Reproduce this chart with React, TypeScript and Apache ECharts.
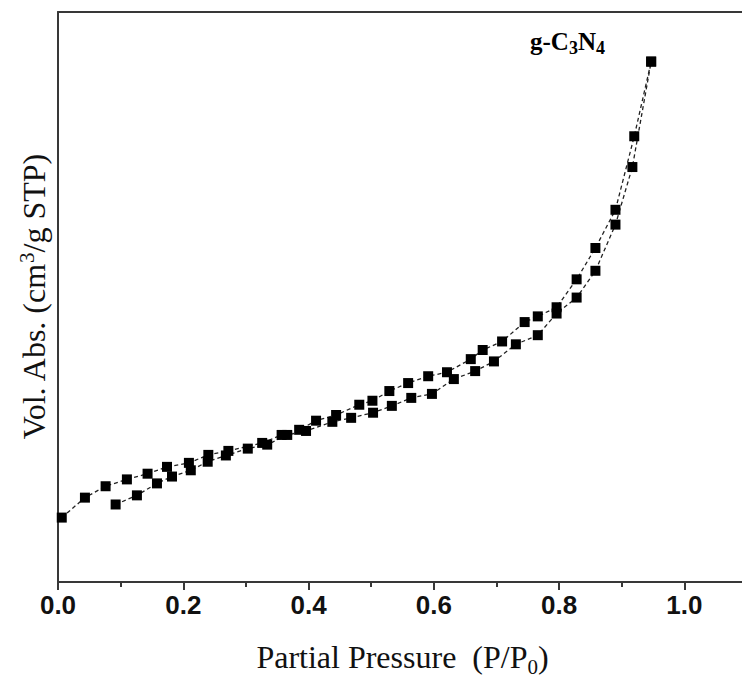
import React, { useEffect, useRef } from "react";
import * as echarts from "echarts";

// Upper branch (starts at low pressure)
const upperX = [0.006, 0.043, 0.076, 0.110, 0.143, 0.174, 0.209, 0.240, 0.272, 0.326, 0.357, 0.385, 0.412, 0.444, 0.481, 0.502, 0.529, 0.559, 0.591, 0.621, 0.659, 0.678, 0.709, 0.745, 0.766, 0.796, 0.828, 0.858, 0.890, 0.920, 0.947];
const upperY = [11.3, 14.8, 16.8, 18.0, 19.0, 20.2, 20.9, 22.3, 23.0, 24.4, 25.8, 26.7, 28.3, 29.3, 31.1, 31.8, 33.5, 34.9, 36.1, 36.8, 39.1, 40.7, 42.2, 45.6, 46.6, 48.2, 53.1, 58.6, 65.3, 78.2, 91.3];

// Lower branch
const lowerX = [0.092, 0.126, 0.158, 0.182, 0.212, 0.239, 0.268, 0.303, 0.334, 0.366, 0.396, 0.438, 0.468, 0.503, 0.533, 0.564, 0.597, 0.632, 0.666, 0.696, 0.731, 0.766, 0.796, 0.828, 0.858, 0.890, 0.917, 0.947];
const lowerY = [13.6, 15.2, 17.3, 18.5, 19.6, 21.1, 22.2, 23.4, 24.1, 25.8, 26.5, 28.1, 28.8, 29.7, 30.9, 32.3, 33.0, 35.6, 37.0, 38.7, 41.7, 43.3, 47.1, 49.9, 54.6, 62.7, 72.8, 91.3];

const xTickLabels = ["0.0", "0.2", "0.4", "0.6", "0.8", "1.0"];

const axisColor = "#383838";

export default function App() {
  const ref = useRef<HTMLDivElement>(null);
  useEffect(() => {
    if (!ref.current) return;
    const chart = echarts.init(ref.current, null, { renderer: "svg" });
    const pair = (xs: number[], ys: number[]) => xs.map((x, i) => [x, ys[i]]);
    const seriesStyle = (data: number[][]) => ({
      type: "line",
      data,
      symbol: "rect",
      symbolSize: 10,
      itemStyle: { color: "#000" },
      lineStyle: { color: "#222", width: 1.3, type: [4, 3] },
      z: 3,
    });
    chart.setOption({
      animation: false,
      backgroundColor: "#fff",
      grid: { left: 58, right: 0, top: 12, bottom: 97 },
      xAxis: [
        {
          type: "value",
          min: 0,
          max: 1.1,
          interval: 0.2,
          axisLine: { show: true, lineStyle: { color: axisColor, width: 2 } },
          axisTick: { show: true, length: 8, lineStyle: { color: axisColor, width: 2 } },
          minorTick: { show: true, splitNumber: 2, length: 5, lineStyle: { color: axisColor, width: 2 } },
          splitLine: { show: false },
          axisLabel: {
            margin: 10,
            fontSize: 26,
            fontWeight: "bold",
            fontFamily: "Liberation Sans",
            color: "#111",
            formatter: (v: number) => {
              const idx = Math.round(v / 0.2);
              return Math.abs(v - idx * 0.2) < 1e-6 && idx < xTickLabels.length ? xTickLabels[idx] : "";
            },
          },
          name: "{a|Partial Pressure  (P/P}{s|0}{a|)}",
          nameLocation: "middle",
          nameGap: 55,
          nameTextStyle: {
            rich: {
              a: { fontSize: 32, fontFamily: "Liberation Serif", color: "#111", lineHeight: 40 },
              s: { fontSize: 21, fontFamily: "Liberation Serif", color: "#111", lineHeight: 20, verticalAlign: "bottom" },
            },
          },
        },
        {
          type: "value",
          position: "top",
          min: 0,
          max: 1.1,
          axisLine: { show: true, lineStyle: { color: axisColor, width: 2 } },
          axisTick: { show: false },
          axisLabel: { show: false },
          splitLine: { show: false },
        },
      ],
      yAxis: {
        type: "value",
        min: 0,
        max: 100,
        axisLine: { show: true, lineStyle: { color: axisColor, width: 2 } },
        axisTick: { show: false },
        axisLabel: { show: false },
        splitLine: { show: false },
        name: "{a|Vol. Abs. (cm}{p|3}{a|/g STP)}",
        nameLocation: "middle",
        nameGap: 6,
        nameTextStyle: {
          rich: {
            a: { fontSize: 32, fontFamily: "Liberation Serif", color: "#111", lineHeight: 36 },
            p: { fontSize: 21, fontFamily: "Liberation Serif", color: "#111", lineHeight: 26, verticalAlign: "top" },
          },
        },
      },
      graphic: [
        {
          type: "text",
          left: 530,
          top: 29,
          style: {
            text: "{a|g-C}{s|3}{a|N}{s|4}",
            rich: {
              a: { fontSize: 25, fontWeight: "bold", fontFamily: "Liberation Serif", fill: "#000", lineHeight: 30 },
              s: { fontSize: 18, fontWeight: "bold", fontFamily: "Liberation Serif", fill: "#000", lineHeight: 17, verticalAlign: "bottom" },
            },
          },
        },
      ],
      series: [seriesStyle(pair(upperX, upperY)), seriesStyle(pair(lowerX, lowerY))],
    });
    return () => chart.dispose();
  }, []);
  return (
    <div style={{ position: "absolute", left: 0, top: 0, width: 742, height: 682, background: "#fff", overflow: "hidden" }}>
      <div ref={ref} style={{ width: 750, height: 682 }} />
    </div>
  );
}
